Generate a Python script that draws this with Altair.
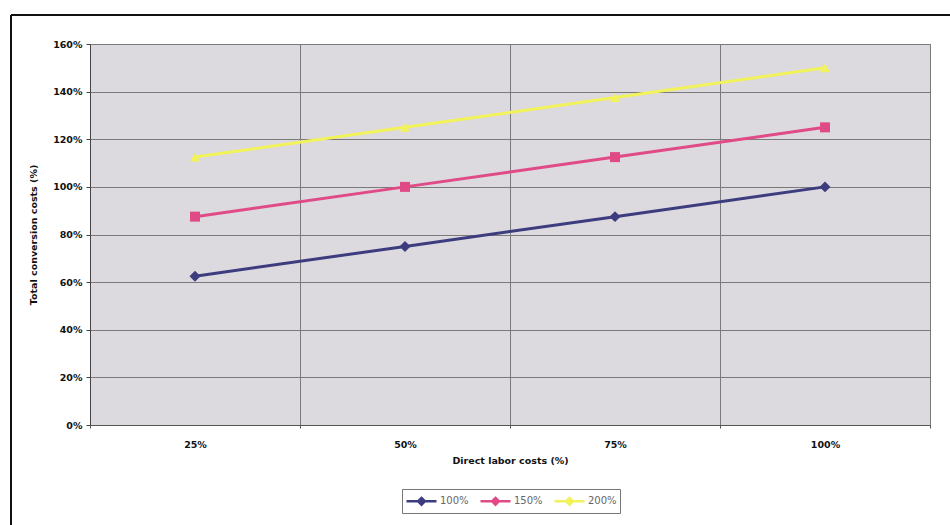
import altair as alt
import pandas as pd

# Direct labor cost levels (x categories)
labor = ["25%", "50%", "75%", "100%"]

# Total conversion costs for each overhead series (fractions, shown as %)
series_names = ["100%", "150%", "200%"]
s100 = [0.625, 0.75, 0.875, 1.00]
s150 = [0.875, 1.00, 1.125, 1.25]
s200 = [1.125, 1.25, 1.375, 1.50]

colors = ["#3d3c7e", "#e04a86", "#f2f25a"]
shapes = ["diamond", "square", "triangle-up"]
marker_sizes = [120, 100, 100]

rows = []
for name, vals in zip(series_names, [s100, s150, s200]):
    for lab, v in zip(labor, vals):
        rows.append({"labor": lab, "cost": v, "series": name})
df = pd.DataFrame(rows)

FONT = "DejaVu Sans"

x_enc = alt.X(
    "labor:N",
    sort=labor,
    bandPosition=0.5,
    scale=alt.Scale(type="band", paddingInner=0, paddingOuter=0),
    axis=alt.Axis(
        title="Direct labor costs  (%)",
        labelAngle=0,
        tickBand="extent",
        grid=True,
        gridColor="#7a7a7a",
        gridWidth=1,
        tickSize=3,
        tickColor="#555555",
        domainColor="#555555",
        labelPadding=11,
        titlePadding=7,
    ),
)
y_enc = alt.Y(
    "cost:Q",
    scale=alt.Scale(domain=[0, 1.6], nice=False),
    axis=alt.Axis(
        title="Total conversion costs  (%)",
        format=".0%",
        values=[0, 0.2, 0.4, 0.6, 0.8, 1.0, 1.2, 1.4, 1.6],
        grid=True,
        gridColor="#7a7a7a",
        gridWidth=1,
        tickSize=4,
        tickColor="#444444",
        domainColor="#444444",
        labelPadding=4,
        titlePadding=14,
    ),
)
color_scale = alt.Scale(domain=series_names, range=colors)
color_enc = alt.Color(
    "series:N",
    sort=series_names,
    scale=color_scale,
    legend=alt.Legend(
        title=None,
        orient="none",
        direction="horizontal",
        legendX=312,
        legendY=445,
        # line segment with a small marker in its middle
        symbolType="M-1,0H3M1,-0.45L1.45,0L1,0.45L0.55,0Z",
        symbolSize=225,
        symbolStrokeWidth=2.5,
        labelFont=FONT,
        labelFontSize=10,
        labelColor="#666666",
        labelOffset=17,
        columnPadding=6,
        strokeColor="#777777",
        fillColor="#ffffff",
        padding=3,
    ),
)

lines = alt.Chart(df).mark_line(strokeWidth=3).encode(
    x=x_enc, y=y_enc, color=color_enc
)

# One marker layer per series, each with its own fixed shape
marker_layers = []
for name, shp, sz in zip(series_names, shapes, marker_sizes):
    marker_layers.append(
        alt.Chart(df)
        .transform_filter(alt.datum.series == name)
        .mark_point(shape=shp, filled=True, size=sz, opacity=1)
        .encode(
            x=x_enc,
            y=y_enc,
            color=alt.Color("series:N", sort=series_names, scale=color_scale, legend=None),
        )
    )

# Outer frame around the whole figure
frame_top = alt.Chart(df).mark_rule(color="#111111", strokeWidth=2).encode(
    x=alt.value(-79), x2=alt.value(870), y=alt.value(-29)
)
frame_left = alt.Chart(df).mark_rule(color="#111111", strokeWidth=2).encode(
    x=alt.value(-79), y=alt.value(-29), y2=alt.value(490)
)

chart = (
    alt.layer(lines, *marker_layers, frame_top, frame_left)
    .properties(
        width=840,
        height=381,
        autosize=alt.AutoSizeParams(type="none"),
        padding={"left": 90, "top": 44, "right": 20, "bottom": 100},
        background="#ffffff",
    )
    .configure_view(fill="#dcd9df", stroke="#9a9a9a", strokeWidth=1)
    .configure_axis(
        labelFont=FONT,
        labelFontWeight="bold",
        labelFontSize=9.5,
        labelColor="#111111",
        titleFont=FONT,
        titleFontWeight="bold",
        titleFontSize=9.5,
        titleColor="#111111",
    )
)

chart.save("out.html", embed_options={"renderer": "svg", "actions": False})
